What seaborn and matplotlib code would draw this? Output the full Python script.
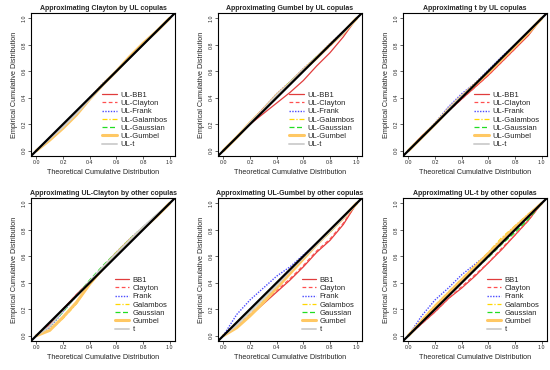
import matplotlib
matplotlib.use('Agg')
import matplotlib.pyplot as plt
import seaborn as sns

sns.set_style('white')
plt.rcParams['font.family'] = ['Liberation Sans', 'DejaVu Sans']
plt.rcParams['axes.unicode_minus'] = False

# grid of theoretical probabilities
X = [0.0, 0.1, 0.2, 0.3, 0.4, 0.5, 0.6, 0.7, 0.8, 0.9, 1.0]

NAMES = ['BB1', 'Clayton', 'Frank', 'Galambos', 'Gaussian', 'Gumbel', 't']

# panel 1: Clayton by UL copulas
p1_bb1 = [0, .09, .18, .28, .39, .50, .60, .70, .80, .90, 1.0]
p1_clayton = [0, .09, .18, .28, .39, .50, .60, .70, .80, .90, 1.0]
p1_frank = [0, .10, .19, .29, .40, .51, .60, .70, .80, .90, 1.0]
p1_galambos = [0, .08, .17, .27, .39, .50, .60, .71, .81, .90, 1.0]
p1_gaussian = [0, .09, .18, .28, .39, .50, .60, .70, .80, .90, 1.0]
p1_gumbel = [0, .08, .17, .27, .39, .50, .60, .71, .81, .90, 1.0]
p1_t = [0, .09, .18, .28, .39, .50, .60, .70, .80, .90, 1.0]

# panel 2: Gumbel by UL copulas
p2_bb1 = [0, .10, .20, .28, .36, .44, .53, .64, .74, .86, 1.0]
p2_clayton = [0, .10, .21, .32, .42, .51, .61, .70, .79, .89, 1.0]
p2_frank = [0, .10, .21, .32, .43, .52, .62, .71, .81, .90, 1.0]
p2_galambos = [0, .10, .21, .31, .42, .51, .61, .71, .80, .89, 1.0]
p2_gaussian = [0, .10, .21, .31, .42, .52, .61, .71, .80, .90, 1.0]
p2_gumbel = [0, .10, .21, .31, .42, .51, .61, .70, .80, .89, 1.0]
p2_t = [0, .10, .21, .31, .42, .51, .61, .70, .80, .89, 1.0]

# panel 3: t by UL copulas
p3_bb1 = [0, .11, .20, .30, .39, .48, .57, .67, .77, .87, 1.0]
p3_clayton = [0, .11, .20, .30, .39, .48, .57, .67, .77, .88, 1.0]
p3_frank = [0, .10, .21, .33, .43, .51, .61, .71, .80, .90, 1.0]
p3_galambos = [0, .10, .20, .31, .41, .50, .60, .70, .79, .89, 1.0]
p3_gaussian = [0, .10, .20, .31, .41, .50, .60, .70, .79, .89, 1.0]
p3_gumbel = [0, .10, .20, .31, .41, .50, .59, .69, .79, .89, 1.0]
p3_t = [0, .10, .20, .31, .41, .50, .60, .70, .80, .90, 1.0]

# panel 4: UL-Clayton by other copulas
p4_bb1 = [0, .08, .20, .31, .41, .51, .61, .71, .81, .90, 1.0]
p4_clayton = [0, .08, .20, .31, .41, .51, .61, .71, .81, .90, 1.0]
p4_frank = [0, .06, .18, .30, .41, .52, .63, .73, .82, .91, 1.0]
p4_galambos = [0, .04, .13, .24, .39, .51, .62, .72, .82, .91, 1.0]
p4_gaussian = [0, .07, .18, .30, .42, .53, .63, .73, .82, .91, 1.0]
p4_gumbel = [0, .04, .14, .25, .39, .51, .62, .72, .81, .90, 1.0]
p4_t = [0, .07, .19, .30, .41, .52, .62, .72, .82, .91, 1.0]

# panel 5: UL-Gumbel by other copulas
p5_bb1 = [0, .07, .15, .24, .33, .42, .52, .63, .72, .84, 1.0]
p5_clayton = [0, .08, .16, .25, .34, .43, .53, .64, .73, .85, 1.0]
p5_frank = [0, .16, .27, .36, .45, .52, .61, .70, .79, .89, 1.0]
p5_galambos = [0, .06, .15, .26, .37, .48, .59, .70, .80, .90, 1.0]
p5_gaussian = [0, .08, .18, .28, .38, .49, .59, .69, .78, .89, 1.0]
p5_gumbel = [0, .06, .15, .25, .36, .47, .58, .69, .79, .89, 1.0]
p5_t = [0, .08, .18, .28, .38, .49, .59, .69, .79, .89, 1.0]

# panel 6: UL-t by other copulas
p6_bb1 = [0, .09, .18, .28, .36, .45, .55, .65, .76, .87, 1.0]
p6_clayton = [0, .09, .18, .28, .37, .46, .55, .66, .76, .87, 1.0]
p6_frank = [0, .15, .27, .36, .46, .54, .62, .71, .80, .90, 1.0]
p6_galambos = [0, .12, .23, .33, .43, .53, .63, .74, .83, .92, 1.0]
p6_gaussian = [0, .10, .20, .30, .40, .50, .59, .69, .78, .88, 1.0]
p6_gumbel = [0, .11, .22, .32, .42, .52, .62, .72, .82, .91, 1.0]
p6_t = [0, .10, .20, .30, .40, .50, .60, .70, .80, .90, 1.0]

TITLES = ['Approximating Clayton by UL copulas',
          'Approximating Gumbel by UL copulas',
          'Approximating t by UL copulas',
          'Approximating UL-Clayton by other copulas',
          'Approximating UL-Gumbel by other copulas',
          'Approximating UL-t by other copulas']

PANELS = [
    [p1_bb1, p1_clayton, p1_frank, p1_galambos, p1_gaussian, p1_gumbel, p1_t],
    [p2_bb1, p2_clayton, p2_frank, p2_galambos, p2_gaussian, p2_gumbel, p2_t],
    [p3_bb1, p3_clayton, p3_frank, p3_galambos, p3_gaussian, p3_gumbel, p3_t],
    [p4_bb1, p4_clayton, p4_frank, p4_galambos, p4_gaussian, p4_gumbel, p4_t],
    [p5_bb1, p5_clayton, p5_frank, p5_galambos, p5_gaussian, p5_gumbel, p5_t],
    [p6_bb1, p6_clayton, p6_frank, p6_galambos, p6_gaussian, p6_gumbel, p6_t],
]

STYLES = [
    dict(color='#e03c3c', linestyle='-', lw=0.9),
    dict(color='#ff5050', linestyle=(0, (3, 2)), lw=0.9),
    dict(color='#4b4bff', linestyle=(0, (1, 1)), lw=1.0),
    dict(color='#ffd700', linestyle=(0, (4, 1.5, 1, 1.5)), lw=0.9),
    dict(color='#22dd22', linestyle=(0, (4, 2)), lw=0.9),
    dict(color='#ffc864', linestyle='-', lw=2.2),
    dict(color='#d0d0d0', linestyle='-', lw=1.4),
]

fig = plt.figure(figsize=(5.5, 3.7), dpi=100)
W, H = 550.0, 370.0
lefts = [31, 218, 403]
tops = [13, 198]
aw, ah = 144, 143

for i in range(6):
    r, c = divmod(i, 3)
    ax = fig.add_axes([lefts[c] / W, 1 - (tops[r] + ah) / H, aw / W, ah / H])
    prefix = 'UL-' if r == 0 else ''
    for name, ys, st in zip(NAMES, PANELS[i], STYLES):
        sns.lineplot(x=X, y=ys, ax=ax, label=prefix + name, **st)
    ax.axline((0, 0), slope=1, color='black', lw=1.6, zorder=5)
    ax.set_xlim(-0.04, 1.04)
    ax.set_ylim(-0.04, 1.04)
    ticks = [0.0, 0.2, 0.4, 0.6, 0.8, 1.0]
    ax.set_xticks(ticks)
    ax.set_yticks(ticks)
    ax.set_xticklabels([f'{t:.1f}' for t in ticks])
    ax.set_yticklabels([f'{t:.1f}' for t in ticks], rotation=90, va='center')
    ax.tick_params(direction='out', length=2, width=0.5, labelsize=3.8,
                   pad=1, bottom=True, left=True)
    for sp in ax.spines.values():
        sp.set_color('black')
        sp.set_linewidth(0.8)
    ax.set_title(TITLES[i], fontsize=5.0, fontweight='bold', pad=2)
    ax.set_xlabel('Theoretical Cumulative Distribution', fontsize=5.2, labelpad=3)
    ax.set_ylabel('Empirical Cumulative Distribution', fontsize=5.2, labelpad=3)
    ax.legend(loc='lower right', frameon=False, fontsize=5.5,
              handlelength=1.9, handletextpad=0.45, labelspacing=0.12,
              borderaxespad=0.6)

fig.savefig('out.png', dpi=100)
